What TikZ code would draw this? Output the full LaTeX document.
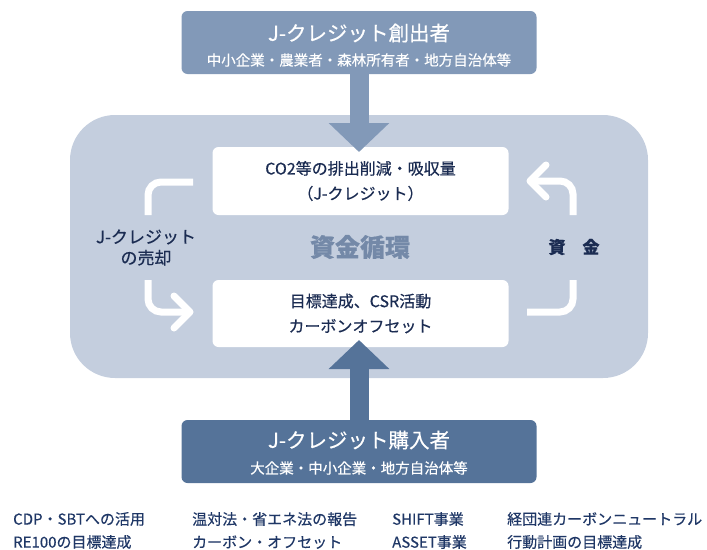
\documentclass[tikz,border=0pt]{standalone}
\usepackage{fontspec}
\setmainfont{Noto Sans CJK JP}[FakeBold=0.4]
\usetikzlibrary{arrows.meta}
\definecolor{creatorblue}{HTML}{8299B8}
\definecolor{buyerblue}{HTML}{557399}
\definecolor{cyclebg}{HTML}{C4CEDE}
\definecolor{navytext}{HTML}{1B2C52}
\definecolor{cyclegrey}{HTML}{7489A8}
\definecolor{footnavy}{HTML}{1F3766}

\begin{document}
\begin{tikzpicture}[x=1pt, y=-1pt]
        \tikzstyle{every node}=[inner sep=0pt, align=center]
        \tikzstyle{party}=[rounded corners=6pt, minimum width=355pt, minimum height=63pt]
        \tikzstyle{partytitle}=[text=white, font=\fontsize{20.5}{24}\selectfont]
        \tikzstyle{partysub}=[text=white, font=\fontsize{14.5}{18}\selectfont]
        \tikzstyle{whitebox}=[fill=white, rounded corners=6pt, minimum width=296pt, minimum height=68pt, text=navytext, font=\fontsize{16}{25}\selectfont]
        \tikzstyle{flow}=[draw=white, line width=7pt, rounded corners=13pt]
        \tikzstyle{chevron}=[draw=white, line width=7pt, line join=round, line cap=round]
        \tikzstyle{footnote}=[anchor=west, text=footnavy, align=left, font=\fontsize{15}{23}\selectfont]
        \useasboundingbox (0,0) rectangle (707,549);
        % circulation area
        \node [fill=cyclebg, rounded corners=45pt, minimum width=578pt, minimum height=263pt] (cycle) at (359,246.5) {};
        \node [whitebox] (reduction) at (360.5,181) {CO2等の排出削減・吸収量\\（J-クレジット）};
        \node [whitebox, minimum height=67pt] (offset) at (360.5,313.5) {目標達成、CSR活動\\カーボンオフセット};
        % creator and buyer
        \node [party, fill=creatorblue] (creator) at (359,42.5) {};
        \node [partytitle] (creatortitle) at (359,33) {J-クレジット創出者};
        \node [partysub] (creatorsub) at (359,60) {中小企業・農業者・森林所有者・地方自治体等};
        \node [party, fill=buyerblue] (buyer) at (359,451.5) {};
        \node [partytitle] (buyertitle) at (359,440) {J-クレジット購入者};
        \node [partysub] (buyersub) at (359,468) {大企業・中小企業・地方自治体等};
        \draw [creatorblue, line width=19pt, -{Triangle[length=29pt, width=59pt]}] (creator.south) -- (359,152);
        \draw [buyerblue, line width=19pt, -{Triangle[length=29pt, width=59pt]}] (buyer.north) -- (359,340);
        % white loop
        \coordinate (saletop) at (193,182);
        \coordinate (salebottom) at (190,312);
        \coordinate (fundtop) at (530,181);
        \coordinate (fundbottom) at (527,312);
        \draw [flow] (saletop) -| (148,215);
        \draw [flow] (148,280) |- (salebottom);
        \draw [chevron] (174,296) -- (salebottom) -- (174,328);
        \draw [flow] (fundbottom) -| (573,280);
        \draw [flow] (573,215) |- (fundtop);
        \draw [chevron] (546,165) -- (fundtop) -- (546,197);
        \node [text=navytext, font=\fontsize{17}{21}\selectfont] (sale) at (146,247.5) {J-クレジット\\の売却};
        \node [text=cyclegrey, font=\fontsize{25}{28}\selectfont\bfseries] (circulation) at (360,247) {資金循環};
        \node [text=navytext, font=\fontsize{17}{20}\selectfont\bfseries] (fund) at (574,247) {資　金};
        % uses
        \node [footnote] (cdp) at (13,530.5) {CDP・SBTへの活用\\RE100の目標達成};
        \node [footnote] (law) at (192,530.5) {温対法・省エネ法の報告\\カーボン・オフセット};
        \node [footnote] (shift) at (392,530.5) {SHIFT事業\\ASSET事業};
        \node [footnote] (keidanren) at (507,530.5) {経団連カーボンニュートラル\\行動計画の目標達成};
    \end{tikzpicture}
\end{document}
